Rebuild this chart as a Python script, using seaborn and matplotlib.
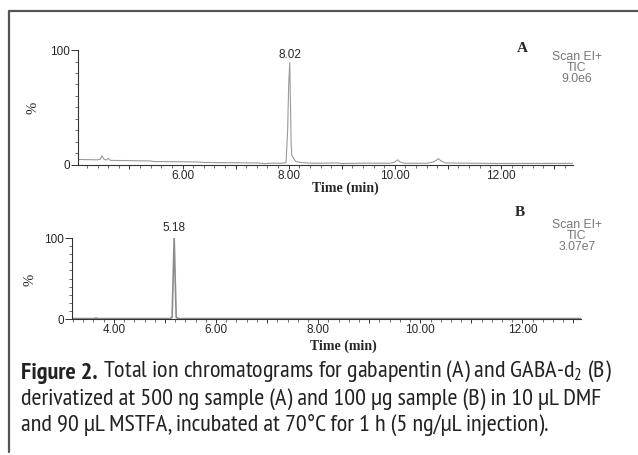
import matplotlib
matplotlib.use("Agg")
import matplotlib.pyplot as plt
from matplotlib.lines import Line2D
from matplotlib.ticker import MultipleLocator, FixedLocator, FuncFormatter
import seaborn as sns

# panel A: gabapentin TIC (time in min, % of scale)
a_time = [4.00, 4.40, 4.45, 4.48, 4.52, 4.56, 4.60, 4.64, 5.00, 5.40, 5.45, 6.00,
          6.30, 6.40, 6.80, 7.40, 7.55, 7.70, 7.85, 7.95, 7.98, 8.00, 8.02, 8.035,
          8.045, 8.06, 8.09, 8.13, 8.25, 8.50, 8.90, 9.00, 9.50, 9.90, 10.00, 10.05,
          10.10, 10.18, 10.60, 10.72, 10.78, 10.82, 10.87, 10.95, 11.50, 12.00, 13.36]
a_pct = [4.8, 4.5, 5.0, 8.0, 5.0, 4.2, 5.8, 4.0, 3.8, 3.5, 3.0, 2.8,
         2.6, 2.2, 2.0, 1.8, 1.2, 1.6, 1.5, 2.0, 30, 70, 89, 50,
         20, 8, 6, 3, 2.0, 1.5, 1.8, 1.3, 1.6, 1.5, 2.5, 4.5,
         2.5, 1.5, 1.5, 2.5, 4.0, 5.5, 3.5, 1.8, 1.5, 1.3, 1.4]
a_peak_time = 8.02
a_peak_pct = 89
a_scale = "Scan EI+\nTIC\n9.0e6"

# panel B: GABA-d2 TIC
b_time = [3.18, 3.60, 3.65, 3.70, 5.10, 5.14, 5.18, 5.22, 5.26, 13.15]
b_pct = [0.5, 0.5, 1.2, 0.5, 0.5, 2.0, 100, 2.0, 0.5, 0.5]
b_peak_time = 5.18
b_peak_pct = 100
b_scale = "Scan EI+\nTIC\n3.07e7"

caption_bold = "Figure 2."
caption_lines = [" Total ion chromatograms for gabapentin (A) and GABA-d$_2$ (B)",
                 "derivatized at 500 ng sample (A) and 100 µg sample (B) in 10 µL DMF",
                 "and 90 µL MSTFA, incubated at 70°C for 1 h (5 ng/µL injection)."]

sns.set_style("white")
plt.rcParams["font.family"] = ["Liberation Sans", "DejaVu Sans"]
plt.rcParams["mathtext.default"] = "regular"
cap_font = ["PT Sans Narrow", "DejaVu Sans"]
serif = ["Liberation Serif", "DejaVu Serif"]

fig = plt.figure(figsize=(6.38, 4.55), dpi=100)
ax_a = fig.add_axes([0.1223, 0.6374, 0.776, 0.2527])
ax_b = fig.add_axes([0.1129, 0.2989, 0.798, 0.178])

sns.lineplot(x=a_time, y=a_pct, ax=ax_a, color="#9a9a9a", linewidth=0.8,
             sort=False, estimator=None)
sns.lineplot(x=b_time, y=b_pct, ax=ax_b, color="#8c8c8c", linewidth=1.2,
             sort=False, estimator=None)


def even_label(v, pos):
    return f"{v:.2f}" if round(v) % 2 == 0 else ""


def style_axis(ax, xlim):
    ax.set_xlim(*xlim)
    ax.set_ylim(0, 100)
    for s in ["top", "right"]:
        ax.spines[s].set_visible(False)
    for s in ["left", "bottom"]:
        ax.spines[s].set_color("#333333")
        ax.spines[s].set_linewidth(0.8)
    ax.xaxis.set_major_locator(MultipleLocator(1))
    ax.xaxis.set_minor_locator(MultipleLocator(0.2))
    ax.xaxis.set_major_formatter(FuncFormatter(even_label))
    ax.yaxis.set_major_locator(FixedLocator([0, 100]))
    ax.yaxis.set_minor_locator(MultipleLocator(10))
    ax.tick_params(axis="x", which="major", bottom=True, length=3, width=0.7,
                   pad=0.5, labelsize=8.5, color="#333333")
    ax.tick_params(axis="x", which="minor", bottom=True, length=1.8, width=0.5,
                   color="#333333")
    ax.tick_params(axis="y", which="major", left=True, length=5, width=0.7,
                   pad=1, labelsize=8.5, color="#333333")
    ax.tick_params(axis="y", which="minor", left=True, length=2.5, width=0.5,
                   color="#333333")
    ax.set_xlabel("Time (min)", family=serif, fontweight="bold", fontsize=10)
    ax.set_ylabel("%", family=serif, fontsize=10.5)


style_axis(ax_a, (4.03, 13.36))
style_axis(ax_b, (3.18, 13.15))
ax_a.xaxis.set_label_coords(0.539, -0.145)
ax_a.yaxis.set_label_coords(-0.077, 0.5)
ax_b.xaxis.set_label_coords(0.532, -0.25)
ax_b.yaxis.set_label_coords(-0.069, 0.48)

ax_a.annotate(f"{a_peak_time:.2f}", (a_peak_time, a_peak_pct), xytext=(0, 1),
              textcoords="offset points", ha="center", va="bottom", fontsize=8.5,
              annotation_clip=False)
ax_b.annotate(f"{b_peak_time:.2f}", (b_peak_time, b_peak_pct), xytext=(0, 3),
              textcoords="offset points", ha="center", va="bottom", fontsize=8.5,
              annotation_clip=False)

fig.text(522 / 638, 1 - 48 / 455, "A", family=serif, fontweight="bold",
         fontsize=11, ha="center", va="center")
fig.text(577 / 638, 1 - 68 / 455, a_scale, fontsize=8.8, color="#777777",
         ha="center", va="center", multialignment="center", linespacing=0.9)
fig.text(520 / 638, 1 - 213 / 455, "B", family=serif, fontweight="bold",
         fontsize=11, ha="center", va="center")
fig.text(577 / 638, 1 - 236 / 455, b_scale, fontsize=8.8, color="#777777",
         ha="center", va="center", multialignment="center", linespacing=0.9)

# frame (top and left only)
fig.add_artist(Line2D([9 / 638, 1], [1 - 11 / 455, 1 - 11 / 455], transform=fig.transFigure,
                      color="#555555", linewidth=1.6))
fig.add_artist(Line2D([9 / 638, 9 / 638], [1 - 11 / 455, 1 - 452 / 455],
                      transform=fig.transFigure, color="#555555", linewidth=1.6))

# caption, scaled so the first line spans the same width as in the source
cap_size = 14
t_bold = fig.text(21 / 638, 1 - 373 / 455, caption_bold, family=cap_font,
                  fontweight="bold", fontsize=cap_size, va="center", color="#222222")
t_rest = ax_a.annotate(caption_lines[0], xy=(1, 0), xycoords=t_bold, family=cap_font,
                       fontsize=cap_size, color="#222222", ha="left", va="bottom",
                       annotation_clip=False)
cap_texts = [t_bold, t_rest]
for i, line in enumerate(caption_lines[1:]):
    cap_texts.append(fig.text(21 / 638, 1 - (399 + 26 * i) / 455, line, family=cap_font,
                              fontsize=cap_size, va="center", color="#222222"))

fig.canvas.draw()
r = fig.canvas.get_renderer()
width = t_rest.get_window_extent(r).x1 - 21
scale = 594 / width
for t in cap_texts:
    t.set_fontsize(t.get_fontsize() * scale)

fig.savefig("out.png", dpi=100)
